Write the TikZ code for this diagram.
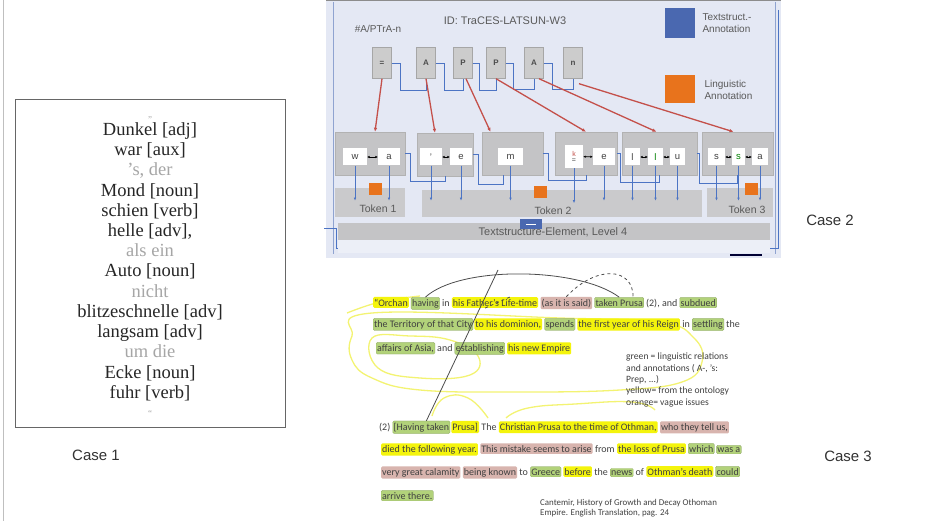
\documentclass[tikz,border=0pt]{standalone}
\usepackage{fontspec}
\setmainfont{Liberation Serif}
\newfontfamily\arialf{Liberation Sans}
\newfontfamily\calf{Carlito}
\usetikzlibrary{arrows.meta}
\definecolor{bgblue}{HTML}{E4E8F4}
\definecolor{framebl}{HTML}{8FA3D0}
\definecolor{boxgray}{HTML}{C4C4C6}
\definecolor{linkblue}{HTML}{4C74C4}
\definecolor{redarr}{HTML}{C4504A}
\definecolor{orng}{HTML}{E8731C}
\definecolor{legblue}{HTML}{4A68B0}
\definecolor{hly}{HTML}{F4F40C}
\definecolor{hlg}{HTML}{B2D27A}
\definecolor{hlp}{HTML}{D8B4AE}
\definecolor{loopy}{HTML}{F2F25A}
\tikzset{
  c1w/.style={font=\fontsize{18.5}{21}\selectfont, text=black!85, text height=12.5pt, text depth=4pt, inner sep=0pt},
  c1g/.style={c1w, text=black!35},
  casel/.style={font=\arialf\fontsize{15}{18}\selectfont, text=black!80},
  tiny/.style={font=\arialf\fontsize{10}{11.5}\selectfont, text=black!65, align=left},
  tbox/.style={draw=black!35, fill=black!20, minimum width=19, minimum height=31, inner sep=0pt, font=\arialf\bfseries\fontsize{8}{9}\selectfont, text=black!70},
  mbox/.style={draw=black!30, fill=boxgray, minimum height=43, inner sep=0pt},
  lbox/.style={fill=white, minimum height=17, inner sep=0pt, font=\arialf\fontsize{9.5}{10}\selectfont, text=black!75},
  tok/.style={fill=boxgray!90!white, minimum height=28, inner sep=0pt},
  osq/.style={fill=orng, minimum width=13, minimum height=12, inner sep=0pt},
  link/.style={draw=linkblue, line width=0.9pt},
  linka/.style={link, -{Latex[length=3pt,width=2.5pt]}},
  redl/.style={draw=redarr, line width=1.3pt, -{Latex[length=4pt,width=3.5pt]}},
  dbl/.style={line width=0.9pt, {Latex[length=2.5pt,width=2.5pt]}-{Latex[length=2.5pt,width=2.5pt]}},
  seg/.style={anchor=base west, inner xsep=1pt, inner ysep=1.8pt, rounded corners=1.3pt, font=\calf\fontsize{10}{12}\selectfont, text=black!75},
  hy/.style={seg, fill=hly},
  hg/.style={seg, fill=hlg, draw=hlg!75!black, line width=0.2pt},
  hp/.style={seg, fill=hlp},
  hn/.style={seg},
  loopl/.style={draw=loopy, line width=1.3pt, opacity=0.85},
  blk/.style={draw=black!70, line width=0.8pt},
  small/.style={font=\calf\fontsize{9.6}{11.3}\selectfont, text=black!75, align=left, inner sep=0pt},
  citef/.style={small, font=\calf\fontsize{8.9}{10}\selectfont}
}
\begin{document}
\begin{tikzpicture}[x=1pt,y=-1pt]
\useasboundingbox (0,0) rectangle (949,521);
\fill[white] (0,0) rectangle (949,521);
\draw[black!25, line width=0.8pt] (3,0) -- (3,521);

% ---------------- Case 1 ----------------
\node[draw=black!60, line width=1.3pt, minimum width=270, minimum height=328, anchor=north west, inner sep=0pt] (c1box) at (15,99) {};
\node[c1g, font=\fontsize{9}{10}\selectfont] (q0) at (150,113) {„};
\node[c1w] (w1) at (150,131) {Dunkel [adj]};
\node[c1w] (w2) at (150,151) {war [aux]};
\node[c1g] (w3) at (150,171) {’s, der};
\node[c1w] (w4) at (150,192) {Mond [noun]};
\node[c1w] (w5) at (150,212) {schien [verb]};
\node[c1w] (w6) at (150,232) {helle [adv],};
\node[c1g] (w7) at (150,252) {als ein};
\node[c1w] (w8) at (150,272) {Auto [noun]};
\node[c1g] (w9) at (150,293) {nicht};
\node[c1w] (w10) at (150,313) {blitzeschnelle [adv]};
\node[c1w] (w11) at (150,333) {langsam [adv]};
\node[c1g] (w12) at (150,353) {um die};
\node[c1w] (w13) at (150,374) {Ecke [noun]};
\node[c1w] (w14) at (150,394) {fuhr [verb]};
\node[c1g, font=\fontsize{9}{10}\selectfont] (q1) at (150,412) {“};
\node[casel] (case1) at (96,455) {Case 1};

% ---------------- Case 2 ----------------
\fill[bgblue] (326,0) rectangle (781,258);
\draw[black!45, line width=1pt] (326,1) -- (781,1);
\draw[framebl, line width=0.8pt] (333,2) -- (333,254);
\draw[framebl, line width=0.8pt] (775,2) -- (775,254);
\draw[linkblue, line width=0.7pt] (324,228) -- (337,228) (336,228) -- (336,248) -- (345,248);
\draw[linkblue, line width=0.7pt] (778,10) -- (778,248) -- (770,248);
\draw[black!55, line width=0.7pt] (757,227) -- (768,227) -- (768,236);
\draw[black!80!blue, line width=2pt] (730,255) -- (762,255);

\node[tiny] (hdr) at (378,29) {\#A/PTrA-n};
\node[tiny, font=\arialf\fontsize{11}{12}\selectfont] (idt) at (505,21) {ID: TraCES-LATSUN-W3};
\node[fill=legblue, minimum width=30, minimum height=30, inner sep=0pt] (legb) at (680,23) {};
\node[tiny, anchor=west] (legbt) at (699,23) {Textstruct.-\\Annotation};
\node[fill=orng, minimum width=30, minimum height=28, inner sep=0pt] (lego) at (680,89) {};
\node[tiny, anchor=west] (legot) at (701,90) {Linguistic\\Annotation};

\node[tbox] (tb1) at (382,63) {=};
\node[tbox] (tb2) at (426,63) {A};
\node[tbox] (tb3) at (463,63) {P};
\node[tbox] (tb4) at (496,63) {P};
\node[tbox] (tb5) at (534,63) {A};
\node[tbox] (tb6) at (573,63) {n};
\draw[link] (tb1.east) -- ++(9,0) -- ++(0,27) -| (tb2.south);
\draw[link] (tb2.east) -- ++(9,0) -- ++(0,27) -| (tb3.south);
\draw[link] (tb3.east) -- ++(7,0) -- ++(0,27) -| (tb4.south);
\draw[link] (tb4.east) -- ++(8,0) -- ++(0,26) -| (tb5.south);
\draw[link] (tb5.east) -- ++(9,0) -- ++(0,26) -| (tb6.south);

\node[mbox, minimum width=70] (mb1) at (370,153.5) {};
\node[mbox, minimum width=56] (mb2) at (445,154.5) {};
\node[mbox, minimum width=61] (mb3) at (512.5,153.5) {};
\node[mbox, minimum width=62] (mb4) at (586,153.5) {};
\node[mbox, minimum width=75] (mb5) at (659.5,153.5) {};
\node[mbox, minimum width=71] (mb6) at (737.5,153.5) {};

\draw[redl] (tb1.south) -- ([xshift=5pt]mb1.north);
\draw[redl] (tb2.south) -- ([xshift=-10pt]mb2.north);
\draw[redl] ([xshift=3pt]tb3.south) -- ([xshift=-22pt]mb3.north);
\draw[redl] (tb4.south) -- (mb4.north);
\draw[redl] ([xshift=5pt]tb5.south) -- ([xshift=-3pt]mb5.north);
\draw[redl] ([xshift=6pt,yshift=-5pt]tb6.south) -- ([xshift=-4pt]mb6.north);

\node[lbox, minimum width=24] (lb1a) at (355,157) {w};
\node[lbox, minimum width=22] (lb1b) at (389,157) {a};
\node[lbox, minimum width=22] (lb2a) at (431,157) {’};
\node[lbox, minimum width=22] (lb2b) at (461,157) {e};
\node[lbox, minimum width=25] (lb3) at (510.5,157) {m};
\node[lbox, minimum width=18, minimum height=23, align=center, font=\arialf\fontsize{7}{7}\selectfont] (lb4a) at (574,156.5) {\textcolor{redarr}{k}\\[-1pt]=};
\node[lbox, minimum width=22] (lb4b) at (604,157) {e};
\node[lbox, minimum width=15] (lb5a) at (632.5,157) {l};
\node[lbox, minimum width=15, text=green!50!black] (lb5b) at (655.5,157) {l};
\node[lbox, minimum width=15] (lb5c) at (677.5,157) {u};
\node[lbox, minimum width=17] (lb6a) at (716.5,157) {s};
\node[lbox, minimum width=13, text=green!50!black] (lb6b) at (738.5,157) {s};
\node[lbox, minimum width=16] (lb6c) at (760,157) {a};
\draw[dbl] (lb1a) -- (lb1b);
\draw[dbl] (lb2a) -- (lb2b);
\draw[dbl] (lb4a) -- (lb4b);
\draw[dbl] (lb5a) -- (lb5b);
\draw[dbl] (lb5b) -- (lb5c);
\draw[dbl] (lb6a) -- (lb6b);
\draw[dbl] (lb6b) -- (lb6c);

\node[tok, minimum width=70, minimum height=29] (tk1) at (370,202.5) {};
\node[tok, minimum width=280, minimum height=27] (tk2) at (562,203.5) {};
\node[tok, minimum width=66, minimum height=29] (tk3) at (740,202.5) {};
\node[tiny, font=\arialf\fontsize{10.5}{12}\selectfont] (tk1l) at (378,209) {Token 1};
\node[tiny, font=\arialf\fontsize{10.5}{12}\selectfont] (tk2l) at (553,211) {Token 2};
\node[tiny, font=\arialf\fontsize{10.5}{12}\selectfont] (tk3l) at (747,210) {Token 3};
\node[osq] (os1) at (375,189) {};
\node[osq] (os2) at (540,192) {};
\node[osq] (os3) at (751,189) {};

\draw[link] (mb1.east) -- ++(5,0) -- ++(0,28) -| (mb2.south);
\draw[link] (mb2.east) -- ++(5,0) -- ++(0,30) -| ([xshift=-9pt]mb3.south);
\draw[link] (mb3.east) -- ++(5,0) -- ++(0,27) -| (mb4.south);
\draw[link] (mb4.east) -- ++(3,0) -- ++(0,29) -| (mb5.south);
\draw[link] (mb5.east) -- ++(2,0) -- ++(0,30) -| (mb6.south);
\foreach \b in {lb1a,lb1b,lb2a,lb2b,lb3,lb4a,lb4b,lb5a,lb5b,lb5c,lb6a,lb6b,lb6c}
  \draw[linka] (\b.south) -- ++(0,35);

\fill[bgblue!70!white] (338,240) rectangle (770,253);
\node[fill=boxgray, minimum width=432, minimum height=17, inner sep=0pt] (ts) at (554,231.5) {};
\node[tiny, font=\arialf\fontsize{11}{12}\selectfont] (tsl) at (553,232) {Textstructure-Element, Level 4};
\node[fill=legblue, minimum width=22, minimum height=9, inner sep=0pt] (tsi) at (531,224) {};
\draw[white, line width=0.6pt] ([xshift=-5pt]tsi.center) -- ([xshift=5pt]tsi.center);

\node[casel] (case2) at (830,220) {Case 2};

% ---------------- Case 3 ----------------
\draw[loopl] plot[smooth cycle, tension=0.7] coordinates {(372,313) (352,336) (352,360) (372,378) (420,390) (520,392) (620,390) (682,382) (702,362) (694,338) (660,322) (560,318)};
\draw[loopl] plot[smooth, tension=0.7] coordinates {(347,313) (380,302) (420,296)};
\draw[loopl] plot[smooth cycle, tension=0.7] coordinates {(372,338) (378,368) (420,378) (470,375) (478,356) (450,340) (410,336)};
\draw[loopl] plot[smooth, tension=0.8] coordinates {(432,416) (444,398) (468,398) (488,418)};
\draw[loopl] plot[smooth, tension=0.8] coordinates {(506,418) (528,408) (575,404) (632,402) (655,410)};

\node[hy] (p1a) at (373,306) {“Orchan};
\node[hg] (p1b) at ([xshift=2pt]p1a.base east) {having};
\node[hn] (p1c) at ([xshift=1pt]p1b.base east) {in};
\node[hy] (p1d) at ([xshift=1pt]p1c.base east) {his Father’s Life-time};
\node[hp] (p1e) at ([xshift=2pt]p1d.base east) {(as it is said)};
\node[hg] (p1f) at ([xshift=2pt]p1e.base east) {taken Prusa};
\node[hn] (p1g) at ([xshift=1pt]p1f.base east) {(2), and};
\node[hg] (p1h) at ([xshift=1pt]p1g.base east) {subdued};

\node[hg] (p2a) at (373,327) {the Territory of that City};
\node[hy] (p2b) at ([xshift=1pt]p2a.base east) {to his dominion,};
\node[hg] (p2c) at ([xshift=2pt]p2b.base east) {spends};
\node[hy] (p2d) at ([xshift=2pt]p2c.base east) {the first year of his Reign};
\node[hn] (p2e) at ([xshift=1pt]p2d.base east) {in};
\node[hg] (p2f) at ([xshift=1pt]p2e.base east) {settling};
\node[hn] (p2g) at ([xshift=1pt]p2f.base east) {the};

\node[hg] (p3a) at (376,351) {affairs of Asia,};
\node[hn] (p3b) at ([xshift=1pt]p3a.base east) {and};
\node[hg] (p3c) at ([xshift=1pt]p3b.base east) {establishing};
\node[hy] (p3d) at ([xshift=2pt]p3c.base east) {his new Empire};

\node[hn] (q1a) at (378,430) {(2)};
\node[hg] (q1b) at ([xshift=1pt]q1a.base east) {[Having taken};
\node[hy] (q1c) at ([xshift=1pt]q1b.base east) {Prusa]};
\node[hn] (q1d) at ([xshift=1pt]q1c.base east) {The};
\node[hy] (q1e) at ([xshift=1pt]q1d.base east) {Christian Prusa to the time of Othman,};
\node[hp] (q1f) at ([xshift=2pt]q1e.base east) {who they tell us,};

\node[hy] (q2a) at (381,452) {died the following year.};
\node[hp] (q2b) at ([xshift=2pt]q2a.base east) {This mistake seems to arise};
\node[hn] (q2c) at ([xshift=1pt]q2b.base east) {from};
\node[hy] (q2d) at ([xshift=1pt]q2c.base east) {the loss of Prusa};
\node[hg] (q2e) at ([xshift=2pt]q2d.base east) {which};
\node[hg] (q2f) at ([xshift=2pt]q2e.base east) {was a};

\node[hp] (q3a) at (381,475) {very great calamity};
\node[hp] (q3b) at ([xshift=2pt]q3a.base east) {being known};
\node[hn] (q3c) at ([xshift=1pt]q3b.base east) {to};
\node[hg] (q3d) at ([xshift=1pt]q3c.base east) {Greece};
\node[hy] (q3e) at ([xshift=2pt]q3d.base east) {before};
\node[hn] (q3f) at ([xshift=1pt]q3e.base east) {the};
\node[hg] (q3g) at ([xshift=1pt]q3f.base east) {news};
\node[hn] (q3h) at ([xshift=1pt]q3g.base east) {of};
\node[hy] (q3i) at ([xshift=1pt]q3h.base east) {Othman’s death};
\node[hg] (q3j) at ([xshift=2pt]q3i.base east) {could};

\node[hg] (q4a) at (381,499) {arrive there.};

\coordinate (ltop) at (498,270);
\draw[blk] (p1b.north) .. controls +(35,-32) and +(-40,-30) .. (p1f.north);
\draw[blk, dashed] (p1e.north) .. controls +(30,-32) and +(0,-30) .. ([xshift=14pt]p1f.north);
\draw[blk, dashed] ([xshift=-10pt]p1d.south) -- ([xshift=15pt]p1d.north);
\draw[blk] (ltop) -- ([xshift=5pt]q1b.north);

\node[small, anchor=north west] (notes) at (626,353) {green = linguistic relations\\and annotations ( A-, ’s:\\Prep, ...)\\yellow= from the ontology\\orange= vague issues};
\node[citef, anchor=north west] (cite) at (540,499) {Cantemir, History of Growth and Decay Othoman\\Empire. English Translation, pag. 24};

\node[casel] (case3) at (848,456) {Case 3};
\end{tikzpicture}
\end{document}
